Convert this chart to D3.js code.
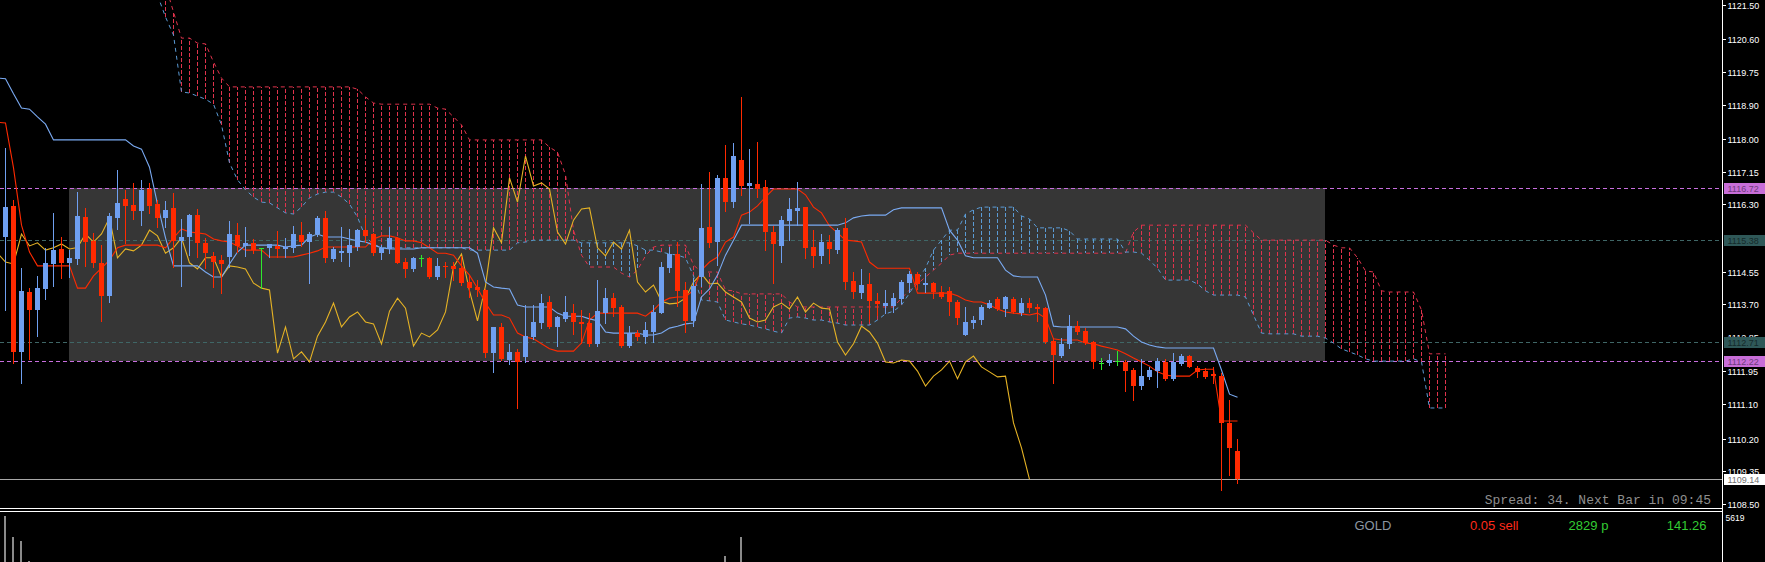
<!DOCTYPE html>
<html><head><meta charset="utf-8">
<script src="https://cdn.jsdelivr.net/npm/d3@7"></script>
<style>html,body{margin:0;padding:0;background:#000;overflow:hidden}</style>
</head><body>
<svg id="c" width="1765" height="562"></svg>
<script>
// ---------- DATA ----------
const open=[
1115.45,1116.26,1112.46,1114.02,1113.55,1114.10,1114.75,1115.14,1114.78,1114.88,
1115.97,1115.35,1114.78,1113.92,1115.95,1116.44,1116.28,1116.13,1116.70,1116.31,
1115.95,1116.21,1115.35,1115.45,1116.02,1115.30,1114.96,1114.85,1114.93,1115.50,
1115.22,1115.30,1115.17,1115.17,1115.22,1115.15,1115.17,1115.50,1115.32,1115.53,
1115.95,1114.88,1115.03,1115.03,1115.19,1115.63,1115.53,1115.03,1115.14,1115.43,
1114.80,1114.62,1114.91,1114.91,1114.41,1114.70,1114.70,1114.64,1114.28,1114.15,
1114.07,1112.43,1113.11,1112.25,1112.46,1112.33,1112.85,1113.21,1113.76,1113.11,
1113.32,1113.47,1113.24,1113.21,1112.67,1113.47,1113.86,1113.63,1112.61,1112.95,
1112.85,1112.98,1113.47,1114.64,1115.01,1114.07,1113.27,1114.41,1115.71,1115.32,
1116.99,1116.36,1117.46,1116.78,1116.83,1116.75,1115.58,1115.22,1115.87,1116.13,
1116.23,1115.19,1114.96,1115.32,1115.11,1115.69,1114.31,1113.99,1114.23,1113.78,
1113.66,1113.66,1113.84,1114.25,1114.49,1114.20,1114.25,1114.02,1114.05,1113.76,
1112.90,1113.21,1113.29,1113.60,1113.84,1113.58,1113.84,1113.47,1113.73,1113.63,
1113.60,1112.74,1112.35,1112.67,1113.13,1113.00,1112.72,1112.17,1112.17,1112.22,
1112.20,1111.99,1111.57,1111.81,1111.96,1112.20,1111.76,1112.15,1112.35,1112.04,
1111.96,1111.89,1111.83,1110.61,1109.88];
const high=[
1117.77,1116.42,1114.65,1114.12,1114.44,1115.17,1116.08,1115.45,1115.11,1116.62,
1116.21,1115.56,1115.24,1116.08,1117.20,1116.68,1116.86,1116.94,1116.86,1116.42,
1116.39,1116.60,1115.92,1116.05,1116.18,1115.43,1115.06,1114.98,1115.87,1115.82,
1115.71,1115.40,1115.17,1115.27,1115.61,1115.43,1115.74,1115.84,1115.58,1116.00,
1116.13,1115.19,1115.71,1115.66,1115.66,1115.95,1115.56,1115.24,1115.71,1115.45,
1114.91,1114.93,1114.98,1114.93,1114.91,1114.80,1114.80,1114.96,1114.46,1114.33,
1114.10,1113.11,1113.21,1112.67,1112.54,1113.68,1113.68,1113.97,1113.92,1113.39,
1113.92,1113.71,1113.55,1113.47,1114.33,1114.12,1113.99,1113.68,1113.13,1113.03,
1113.24,1113.68,1114.80,1115.19,1115.32,1114.28,1114.38,1116.83,1117.14,1117.07,
1117.85,1117.90,1119.10,1117.74,1117.92,1116.94,1115.74,1116.00,1116.47,1116.88,
1116.23,1115.63,1115.53,1115.50,1115.69,1115.95,1114.54,1114.62,1114.51,1113.99,
1114.07,1113.99,1114.33,1114.57,1114.54,1114.51,1114.28,1114.18,1114.15,1113.81,
1113.63,1113.39,1113.68,1113.81,1113.89,1113.92,1113.89,1113.86,1113.86,1113.71,
1113.63,1112.82,1112.82,1113.42,1113.27,1113.08,1112.74,1112.30,1112.41,1112.48,
1112.25,1112.04,1112.28,1112.07,1112.30,1112.28,1112.43,1112.41,1112.38,1112.09,
1112.04,1112.07,1111.91,1111.21,1110.19];
const low=[
1113.55,1112.17,1111.65,1112.28,1112.87,1113.84,1114.18,1114.38,1114.41,1114.75,
1114.70,1114.67,1113.27,1113.76,1115.66,1115.30,1115.92,1115.76,1116.08,1115.71,
1115.71,1114.67,1114.18,1114.98,1114.93,1114.65,1114.15,1113.99,1114.67,1115.06,
1114.96,1115.03,1114.12,1114.93,1114.93,1114.93,1115.06,1115.22,1114.25,1115.48,
1114.80,1114.83,1114.83,1114.70,1115.11,1115.32,1114.98,1114.88,1115.03,1114.78,
1114.41,1114.57,1114.70,1114.38,1114.36,1114.41,1114.33,1114.20,1113.89,1113.92,
1112.33,1111.94,1112.25,1112.15,1111.00,1112.20,1112.80,1113.08,1113.08,1112.61,
1113.27,1112.93,1112.69,1112.61,1112.61,1113.21,1113.39,1112.59,1112.59,1112.77,
1112.69,1112.72,1113.47,1114.54,1113.66,1112.98,1113.13,1114.18,1115.19,1114.72,
1116.13,1116.23,1116.55,1115.82,1116.49,1115.11,1114.25,1114.80,1115.37,1115.76,
1114.91,1114.67,1114.78,1114.78,1115.03,1114.10,1113.86,1113.86,1113.27,1113.42,
1113.47,1113.50,1113.73,1114.02,1114.10,1114.02,1113.86,1113.86,1113.42,1113.19,
1112.90,1113.08,1113.19,1113.60,1113.55,1113.39,1113.47,1113.42,1113.50,1113.27,
1112.69,1111.65,1112.33,1112.56,1112.93,1112.67,1112.04,1112.01,1112.12,1112.12,
1111.44,1111.21,1111.49,1111.76,1111.55,1111.73,1111.73,1112.12,1112.07,1111.81,
1111.78,1111.65,1108.87,1109.26,1109.05];
const close=[
1116.23,1112.46,1114.05,1113.55,1114.12,1114.78,1115.11,1114.78,1114.91,1116.00,
1115.32,1114.78,1113.92,1116.00,1116.34,1116.26,1116.13,1116.68,1116.26,1115.95,
1116.16,1115.35,1115.45,1116.02,1115.30,1115.03,1114.80,1114.75,1115.53,1115.22,
1115.30,1115.11,1115.17,1115.27,1115.14,1115.18,1115.53,1115.32,1115.53,1115.95,
1114.91,1115.14,1115.09,1115.24,1115.63,1115.48,1115.03,1115.17,1115.43,1114.78,
1114.62,1114.91,1114.91,1114.41,1114.70,1114.67,1114.62,1114.25,1114.12,1114.07,
1112.43,1113.11,1112.28,1112.46,1112.20,1112.87,1113.24,1113.73,1113.11,1113.37,
1113.50,1113.24,1113.19,1112.67,1113.52,1113.86,1113.60,1112.61,1112.95,1112.85,
1113.03,1113.50,1114.67,1115.01,1114.05,1113.27,1114.18,1115.69,1115.30,1116.99,
1116.36,1117.56,1116.78,1116.86,1116.70,1115.58,1115.27,1115.89,1116.18,1116.21,
1115.17,1114.96,1115.32,1115.14,1115.63,1114.28,1114.02,1114.20,1113.78,1113.71,
1113.73,1113.86,1114.28,1114.49,1114.23,1114.25,1114.02,1113.89,1113.76,1113.34,
1113.24,1113.29,1113.63,1113.73,1113.58,1113.89,1113.50,1113.73,1113.60,1113.58,
1112.72,1112.38,1112.67,1113.13,1112.98,1112.69,1112.20,1112.17,1112.25,1112.22,
1111.96,1111.57,1111.83,1111.99,1112.22,1111.76,1112.20,1112.35,1112.07,1111.94,
1111.81,1111.83,1110.61,1109.96,1109.14];
// Tenkan-sen / Kijun-sen: first value is the bar just left of the window (bar -1)
const lineFirstBar=-1;
const tenkan=[1118.44,
1118.42,1117.25,1115.76,1115.06,1114.70,1114.70,1114.70,1114.70,1114.70,1114.12,
1114.12,1114.44,1114.64,1114.85,1115.17,1115.24,1115.24,1115.24,1115.24,1115.24,
1115.17,1115.43,1115.66,1115.58,1115.56,1115.53,1115.40,1115.35,1115.32,1115.22,
1115.11,1115.11,1115.11,1114.93,1114.93,1114.93,1114.93,1114.98,1115.03,1115.09,
1115.19,1115.19,1115.19,1115.19,1115.19,1115.19,1115.40,1115.48,1115.48,1115.43,
1115.35,1115.35,1115.30,1115.17,1115.03,1115.03,1114.98,1114.70,1114.46,1114.12,
1113.73,1113.42,1113.42,1113.34,1112.95,1112.85,1112.80,1112.67,1112.54,1112.48,
1112.48,1112.48,1112.69,1113.29,1113.47,1113.47,1113.47,1113.47,1113.47,1113.47,
1113.39,1113.55,1113.76,1113.86,1113.89,1113.89,1114.07,1114.59,1114.80,1114.93,
1115.32,1115.45,1116.02,1116.10,1116.26,1116.49,1116.70,1116.70,1116.70,1116.70,
1116.55,1116.23,1116.08,1115.74,1115.56,1115.37,1115.35,1115.32,1114.80,1114.64,
1114.64,1114.64,1114.64,1114.64,1113.99,1113.99,1113.99,1113.99,1113.99,1113.92,
1113.81,1113.76,1113.76,1113.68,1113.58,1113.50,1113.47,1113.45,1113.42,1113.47,
1113.34,1112.80,1112.77,1112.77,1112.77,1112.69,1112.67,1112.61,1112.56,1112.51,
1112.41,1112.30,1112.20,1112.09,1111.94,1111.86,1111.83,1111.83,1111.83,1111.99,
1112.01,1112.01,1110.66,1110.66,1110.66];
const kijun=[1119.59,
1119.57,1119.18,1118.81,1118.78,1118.58,1118.39,1117.98,1117.98,1117.98,1117.98,
1117.98,1117.98,1117.98,1117.98,1117.98,1117.98,1117.82,1117.74,1117.27,1116.31,
1115.43,1114.70,1114.70,1114.70,1114.70,1114.54,1114.41,1114.41,1114.75,1115.06,
1115.24,1115.24,1115.24,1115.24,1115.24,1115.19,1115.22,1115.24,1115.45,1115.53,
1115.45,1115.45,1115.45,1115.40,1115.35,1115.32,1115.24,1115.17,1115.14,1115.14,
1115.14,1115.14,1115.17,1115.17,1115.17,1115.17,1115.17,1115.17,1115.17,1115.03,
1114.28,1114.15,1114.12,1114.10,1113.68,1113.63,1113.63,1113.63,1113.63,1113.47,
1113.39,1113.39,1113.39,1113.32,1113.27,1112.98,1112.95,1112.95,1112.95,1112.95,
1112.90,1112.90,1112.95,1113.08,1113.13,1113.19,1113.21,1113.89,1114.10,1114.46,
1114.98,1115.37,1115.76,1115.76,1115.76,1115.76,1115.76,1115.76,1115.76,1115.76,
1115.76,1115.76,1115.76,1115.76,1115.76,1115.82,1115.95,1116.00,1116.02,1116.02,
1116.02,1116.16,1116.21,1116.21,1116.21,1116.21,1116.21,1116.21,1115.63,1115.37,
1114.96,1114.91,1114.91,1114.91,1114.91,1114.59,1114.44,1114.41,1114.41,1114.41,
1113.94,1113.13,1113.11,1113.11,1113.11,1113.11,1113.11,1113.11,1113.11,1113.11,
1113.06,1112.87,1112.72,1112.64,1112.59,1112.56,1112.56,1112.56,1112.56,1112.56,
1112.56,1112.56,1111.99,1111.36,1111.28];
// Senkou spans, bars 19..180 (shifted 26 bars ahead)
const cloudFirstBar=19;
const spanA=[
1121.75,1121.18,1120.71,1119.23,1119.20,1119.12,1119.04,1118.91,1118.37,1117.38,
1116.94,1116.68,1116.49,1116.36,1116.34,1116.21,1116.08,1116.05,1116.23,1116.47,
1116.57,1116.62,1116.62,1116.49,1116.31,1115.97,1115.45,1115.27,1115.17,1115.17,
1115.17,1115.17,1115.17,1115.17,1115.17,1115.17,1115.17,1115.17,1115.17,1115.11,
1115.11,1115.11,1115.11,1115.11,1115.11,1115.30,1115.32,1115.37,1115.37,1115.37,
1115.37,1115.37,1115.37,1115.30,1115.30,1115.30,1115.30,1115.30,1115.30,1115.30,
1115.22,1115.11,1115.11,1115.06,1115.01,1114.98,1114.91,1114.44,1113.81,1113.79,
1113.76,1113.29,1113.24,1113.19,1113.16,1113.11,1113.06,1113.00,1112.95,1113.34,
1113.37,1113.34,1113.29,1113.29,1113.24,1113.21,1113.16,1113.16,1113.16,1113.16,
1113.29,1113.45,1113.52,1113.68,1113.99,1114.33,1114.64,1115.11,1115.37,1115.63,
1115.63,1116.05,1116.16,1116.23,1116.23,1116.23,1116.23,1116.23,1116.00,1115.92,
1115.69,1115.69,1115.69,1115.69,1115.61,1115.40,1115.40,1115.40,1115.40,1115.40,
1115.40,1115.06,1115.06,1115.03,1114.85,1114.64,1114.33,1114.33,1114.33,1114.33,
1114.23,1114.05,1113.94,1113.94,1113.94,1113.94,1113.89,1113.42,1112.95,1112.93,
1112.93,1112.93,1112.93,1112.87,1112.87,1112.87,1112.82,1112.69,1112.54,1112.46,
1112.38,1112.28,1112.22,1112.22,1112.22,1112.22,1112.22,1112.28,1112.20,1111.00,
1111.00,1111.00];
const spanB=[
1122.66,1122.01,1121.31,1120.63,1120.63,1120.50,1120.48,1120.01,1119.59,1119.36,
1119.36,1119.36,1119.36,1119.36,1119.36,1119.36,1119.36,1119.36,1119.36,1119.36,
1119.36,1119.36,1119.36,1119.36,1119.36,1119.30,1119.10,1118.94,1118.91,1118.91,
1118.91,1118.91,1118.91,1118.91,1118.91,1118.81,1118.78,1118.58,1118.37,1117.98,
1117.98,1117.98,1117.98,1117.98,1117.98,1117.98,1117.98,1117.98,1117.98,1117.79,
1117.66,1117.07,1115.63,1114.98,1114.67,1114.67,1114.67,1114.67,1114.51,1114.41,
1114.59,1114.96,1115.19,1115.24,1115.24,1115.24,1115.24,1114.72,1114.54,1114.54,
1114.54,1114.07,1114.05,1113.97,1113.97,1113.97,1113.97,1113.97,1113.97,1113.76,
1113.63,1113.63,1113.63,1113.63,1113.63,1113.63,1113.63,1113.63,1113.63,1113.63,
1113.63,1113.63,1113.63,1113.86,1114.07,1114.23,1114.41,1114.59,1114.77,1114.98,
1115.03,1115.03,1115.03,1115.03,1115.03,1115.03,1115.03,1115.03,1115.03,1115.03,
1115.03,1115.03,1115.03,1115.03,1115.03,1115.03,1115.03,1115.03,1115.03,1115.03,
1115.03,1115.03,1115.58,1115.76,1115.76,1115.76,1115.76,1115.76,1115.76,1115.76,
1115.76,1115.76,1115.76,1115.76,1115.76,1115.76,1115.76,1115.56,1115.37,1115.37,
1115.37,1115.37,1115.37,1115.37,1115.37,1115.37,1115.37,1115.24,1115.17,1115.17,
1114.91,1114.57,1114.54,1114.05,1114.02,1114.02,1114.02,1114.02,1113.55,1112.41,
1112.41,1112.41];
const chikouShift=26;
// price levels / objects
const rangeLevels=[1116.72,1112.22];
const pivotLevels=[1115.38,1112.71];
const bidPrice=1109.14;
const boxFromBar=8, boxToBar=165;
// price axis tick labels
const tickLabels=['1121.50','1120.60','1119.75','1118.90','1118.00','1117.15','1116.30','1115.45',
'1114.55','1113.70','1112.85','1111.95','1111.10','1110.20','1109.35','1108.50'];
// tick-volume sub window (only visible bars)
const volBars=[0,1,2,3,90,92];
const volValues=[5619,3054,2565,122,733,3054];
const volMax=5619;
const spreadText='Spread: 34. Next Bar in 09:45';
const infoTexts=['GOLD','0.05 sell','2829 p','141.26'];

// ---------- DRAW ----------
const W=1765,H=562,axisX=1722,mainBottom=508;
const svg=d3.select('#c');
svg.append('rect').attr('width',W).attr('height',H).attr('fill','#000');
const xs=d3.scaleLinear().domain([0,180]).range([5,1445]);
const ys=d3.scaleLinear().domain([1121.5,1108.5]).range([4.7,504.0]);
const yc=p=>Math.round(ys(p))+0.5;

const defs=svg.append('defs');
defs.append('clipPath').attr('id','mc')
  .append('rect').attr('x',0).attr('y',0).attr('width',axisX).attr('height',mainBottom);
const g=svg.append('g').attr('clip-path','url(#mc)');

// range box
g.append('rect').attr('x',xs(boxFromBar)).attr('width',xs(boxToBar)-xs(boxFromBar))
 .attr('y',Math.round(ys(rangeLevels[0]))).attr('height',Math.round(ys(rangeLevels[1]))-Math.round(ys(rangeLevels[0])))
 .attr('fill','#363636');

// horizontal level lines
const hl=(p,col,dash)=>g.append('line').attr('x1',0).attr('x2',axisX).attr('y1',yc(p)).attr('y2',yc(p))
  .attr('stroke',col).attr('stroke-width',1).attr('stroke-dasharray',dash).attr('shape-rendering','crispEdges');
pivotLevels.forEach(p=>hl(p,'#3f6666','4,3'));
rangeLevels.forEach(p=>hl(p,'#c86ede','4,3'));
hl(bidPrice,'#a8a8a8',null);

// cloud hatch
const cloudBars=d3.range(cloudFirstBar,cloudFirstBar+spanA.length);
const RED='#e0334c', BLUE='#5b9bd5';
g.append('g').selectAll('line').data(cloudBars).join('line')
  .attr('x1',i=>xs(i)+0.5).attr('x2',i=>xs(i)+0.5)
  .attr('y1',i=>ys(spanA[i-cloudFirstBar])).attr('y2',i=>ys(spanB[i-cloudFirstBar]))
  .attr('stroke',i=>spanB[i-cloudFirstBar]>spanA[i-cloudFirstBar]?RED:BLUE)
  .attr('stroke-width',1).attr('stroke-dasharray','4,2').attr('shape-rendering','crispEdges');
const lineA=d3.line().x(i=>xs(i)+0.5).y(i=>ys(spanA[i-cloudFirstBar]));
const lineB=d3.line().x(i=>xs(i)+0.5).y(i=>ys(spanB[i-cloudFirstBar]));
g.append('path').attr('d',lineB(cloudBars)).attr('fill','none').attr('stroke',RED).attr('stroke-width',1).attr('stroke-dasharray','4,4');
g.append('path').attr('d',lineA(cloudBars)).attr('fill','none').attr('stroke',BLUE).attr('stroke-width',1).attr('stroke-dasharray','4,4');

// chikou, tenkan, kijun
const barIdx=d3.range(close.length);
const chik=d3.line().x(i=>xs(i-chikouShift)+0.5).y(i=>ys(close[i]));
g.append('path').attr('d',chik(barIdx)).attr('fill','none').attr('stroke','#e6b325').attr('stroke-width',1.1);
const lineIdx=d3.range(tenkan.length);
const ten=d3.line().x(k=>xs(k+lineFirstBar)+0.5).y(k=>ys(tenkan[k]));
g.append('path').attr('d',ten(lineIdx)).attr('fill','none').attr('stroke','#ff2a00').attr('stroke-width',1.1);
const kij=d3.line().x(k=>xs(k+lineFirstBar)+0.5).y(k=>ys(kijun[k]));
g.append('path').attr('d',kij(lineIdx)).attr('fill','none').attr('stroke','#7aaaf2').attr('stroke-width',1.1);

// candles
const UP='#6f9ff0', DN='#ff2a00', DOJI='#2ee82e';
const cg=g.append('g');
barIdx.forEach(i=>{
  const o=open[i],c=close[i];
  const col=c>o?UP:(c<o?DN:DOJI);
  const x=xs(i);
  cg.append('line').attr('x1',x+0.5).attr('x2',x+0.5).attr('y1',Math.round(ys(high[i]))).attr('y2',Math.round(ys(low[i]))+1)
    .attr('stroke',col).attr('stroke-width',1).attr('shape-rendering','crispEdges');
  if(c===o){
    cg.append('line').attr('x1',x-2).attr('x2',x+3).attr('y1',yc(o)).attr('y2',yc(o))
      .attr('stroke',col).attr('stroke-width',1).attr('shape-rendering','crispEdges');
  } else {
    const t=Math.round(ys(Math.max(o,c))), b=Math.round(ys(Math.min(o,c)));
    cg.append('rect').attr('x',x-2).attr('width',5).attr('y',t).attr('height',Math.max(1,b-t)).attr('fill',col);
  }
});

// spread text
svg.append('text').attr('x',1711).attr('y',503.5).attr('text-anchor','end')
  .attr('font-family','"Liberation Mono","DejaVu Sans Mono",monospace').attr('font-size',13)
  .attr('fill','#8e8e8e').text(spreadText);

// separators
[508.5,511.5].forEach(y=>svg.append('line').attr('x1',0).attr('x2',axisX).attr('y1',y).attr('y2',y)
  .attr('stroke','#fff').attr('stroke-width',1).attr('shape-rendering','crispEdges'));

// volume sub-window
const yv=d3.scaleLinear().domain([0,volMax]).range([562,516]);
svg.append('g').selectAll('rect').data(volBars).join('rect')
  .attr('x',b=>xs(b)-1).attr('width',2)
  .attr('y',(b,k)=>yv(volValues[k])).attr('height',(b,k)=>562-yv(volValues[k]))
  .attr('fill','#8a8a8a');

// info texts
const infoX=[1354.5,1470,1568.6,1666.7], infoCol=['#8c96a2','#ff2a1a','#33cc33','#33cc33'];
infoTexts.forEach((t,k)=>svg.append('text').attr('x',infoX[k]).attr('y',529.5)
  .attr('font-family','"Liberation Sans",Arial,sans-serif').attr('font-size',13).attr('fill',infoCol[k]).text(t));

// price axis
svg.append('line').attr('x1',axisX+0.5).attr('x2',axisX+0.5).attr('y1',0).attr('y2',H)
  .attr('stroke','#fff').attr('stroke-width',1).attr('shape-rendering','crispEdges');
// level boxes hide the tick labels under them: clip tick labels to the free axis space
const boxLevels=rangeLevels.concat(pivotLevels,[bidPrice]);
const freeClip=defs.append('clipPath').attr('id','axclip');
const bands=boxLevels.map(p=>[Math.round(ys(p))-5,Math.round(ys(p))+6]).sort((a,b)=>a[0]-b[0]);
let yPrev=0;
bands.forEach(([t,b])=>{ if(t>yPrev) freeClip.append('rect').attr('x',axisX).attr('y',yPrev).attr('width',W-axisX).attr('height',t-yPrev); yPrev=b; });
freeClip.append('rect').attr('x',axisX).attr('y',yPrev).attr('width',W-axisX).attr('height',mainBottom-yPrev);
const ax=svg.append('g').attr('clip-path','url(#axclip)');
tickLabels.forEach(s=>{
  const v=+s, y=yc(v);
  ax.append('line').attr('x1',axisX).attr('x2',axisX+4).attr('y1',y).attr('y2',y).attr('stroke','#fff').attr('shape-rendering','crispEdges');
  ax.append('text').attr('x',1727.5).attr('y',y).attr('dy','0.35em')
    .attr('font-family','"Liberation Sans",Arial,sans-serif').attr('font-size',9).attr('fill','#fff').text(s);
});
// level price boxes
const box=(p,bg,fg)=>{
  const y=ys(p);
  svg.append('rect').attr('x',1724).attr('y',Math.round(y)-5).attr('width',41).attr('height',11).attr('fill',bg);
  svg.append('text').attr('x',1727.5).attr('y',Math.round(y)+0.5).attr('dy','0.35em')
    .attr('font-family','"Liberation Sans",Arial,sans-serif').attr('font-size',9).attr('fill',fg).text(p.toFixed(2));
};
rangeLevels.forEach(p=>box(p,'#c86ed8','#6e3c7c'));
pivotLevels.forEach(p=>box(p,'#2f5858','#142a2a'));
box(bidPrice,'#ffffff','#707070');
// volume max label
svg.append('text').attr('x',1725.5).attr('y',518).attr('dy','0.35em')
  .attr('font-family','"Liberation Sans",Arial,sans-serif').attr('font-size',8.5).attr('fill','#fff').text(String(volMax));
</script>
</body></html>
